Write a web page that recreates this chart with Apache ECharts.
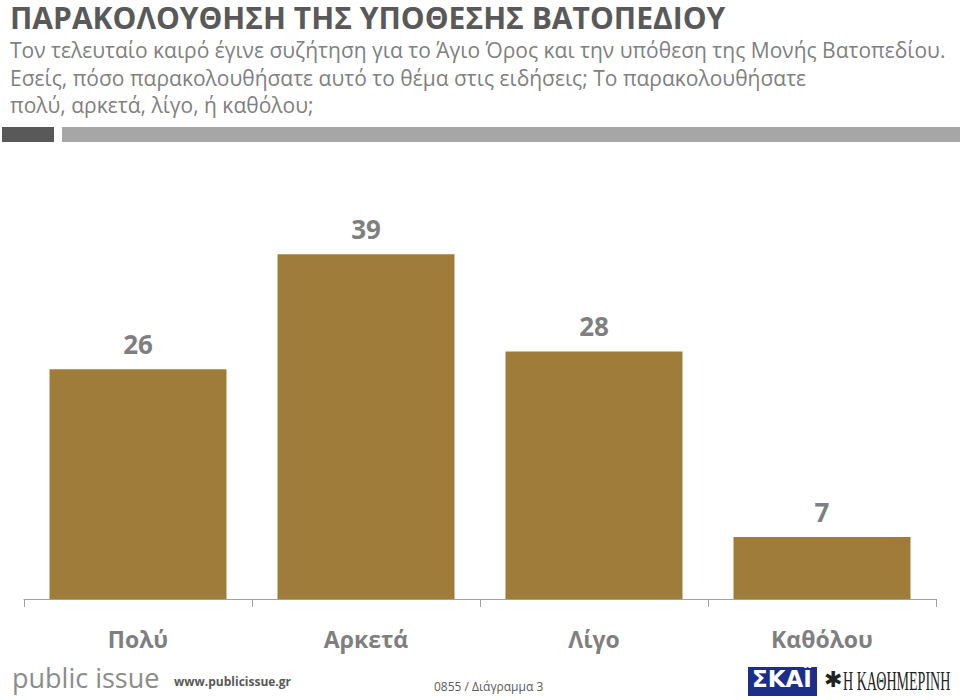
<!DOCTYPE html>
<html><head><meta charset="utf-8">
<script src="https://cdn.jsdelivr.net/npm/echarts@6/dist/echarts.min.js"></script>
<style>html,body{margin:0;padding:0;background:#fff}#c{width:960px;height:700px}</style>
</head><body><div id="c"></div>
<script>
const categories = ['Πολύ', 'Αρκετά', 'Λίγο', 'Καθόλου'];
const values = [26, 39, 28, 7];
const titleText = 'ΠΑΡΑΚΟΛΟΥΘΗΣΗ ΤΗΣ ΥΠΟΘΕΣΗΣ ΒΑΤΟΠΕΔΙΟΥ';
const subtitleLines = [
  'Τον τελευταίο καιρό έγινε συζήτηση για το Άγιο Όρος και την υπόθεση της Μονής Βατοπεδίου.',
  'Εσείς, πόσο παρακολουθήσατε αυτό το θέμα στις ειδήσεις; Το παρακολουθήσατε',
  'πολύ, αρκετά, λίγο, ή καθόλου;'
];

const chart = echarts.init(document.getElementById('c'), null, {renderer: 'svg'});
const font = '"Open Sans", sans-serif';
chart.setOption({
  backgroundColor: '#ffffff',
  animation: false,
  grid: {left: 24, right: 24, top: 210, bottom: 101},
  xAxis: {
    type: 'category', data: categories,
    axisLine: {lineStyle: {color: '#a0a0a0', width: 1}},
    axisTick: {show: true, length: 8, lineStyle: {color: '#a0a0a0'}},
    axisLabel: {color: '#7f7f7f', fontSize: 23, fontWeight: 'bold', fontFamily: font, margin: 28}
  },
  yAxis: {type: 'value', min: 0, max: 44, show: false, splitLine: {show: false}},
  series: [{
    type: 'bar', data: values, barWidth: 177,
    itemStyle: {color: '#a07c3a'},
    label: {show: true, position: 'top', distance: 12, color: '#7f7f7f', fontSize: 26, fontWeight: 'bold', fontFamily: font}
  }],
  graphic: [
    {type: 'text', x: 10, y: 2, style: {text: titleText, fill: '#595959', font: 'bold 30px ' + font, lineHeight: 30}},
    {type: 'text', x: 10, y: 37, style: {text: subtitleLines[0], fill: '#7f7f7f', font: '21px ' + font, lineHeight: 26}},
    {type: 'text', x: 10, y: 65, style: {text: subtitleLines[1], fill: '#7f7f7f', font: '21px ' + font, lineHeight: 26}},
    {type: 'text', x: 10, y: 92, style: {text: subtitleLines[2], fill: '#7f7f7f', font: '21px ' + font, lineHeight: 26}},
    {type: 'rect', shape: {x: 2, y: 127, width: 52, height: 15}, style: {fill: '#595959'}},
    {type: 'rect', shape: {x: 62, y: 127, width: 898, height: 15}, style: {fill: '#a6a6a6'}},
    {type: 'text', x: 12, y: 664, style: {text: 'public issue', fill: '#8c8c8c', font: '27px ' + font}},
    {type: 'text', x: 174, y: 675, style: {text: 'www.publicissue.gr', fill: '#595959', font: 'bold 12px ' + font}},
    {type: 'text', x: 434, y: 680, style: {text: '0855 / Διάγραμμα 3', fill: '#595959', font: '12px ' + font}},
    {type: 'rect', shape: {x: 748, y: 667, width: 69, height: 29}, style: {fill: '#1c2e8a'}},
    {type: 'text', x: 752, y: 667, style: {text: 'ΣΚΑΪ', fill: '#ffffff', font: 'bold 23px "DejaVu Sans", sans-serif'}},
    {type: 'text', x: 824, y: 668, style: {text: '✱', fill: '#222222', font: '22px "DejaVu Sans", sans-serif'}},
    {type: 'text', x: 843, y: 668, scaleX: 0.52, style: {text: 'Η ΚΑΘΗΜΕΡΙΝΗ', fill: '#222222', font: '27px "Liberation Serif", serif'}}
  ]
});
</script></body></html>
